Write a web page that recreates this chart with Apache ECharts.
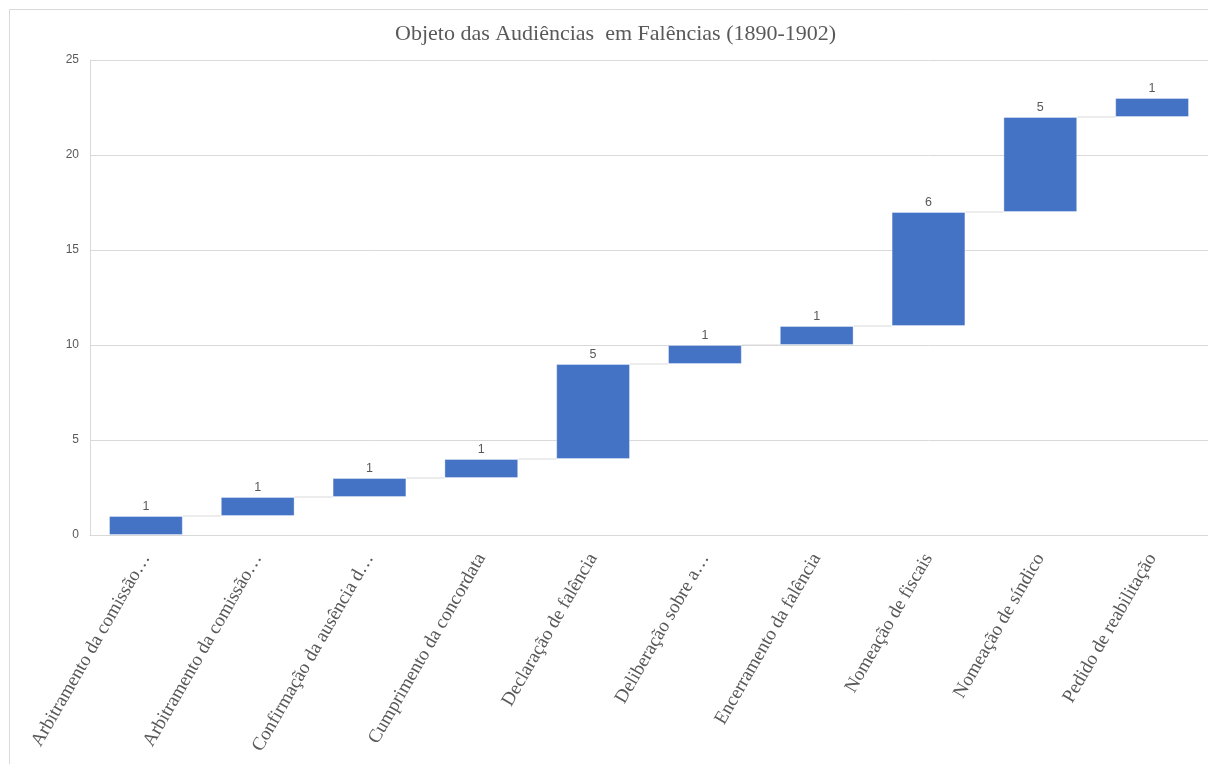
<!DOCTYPE html>
<html>
<head>
<meta charset="utf-8">
<script src="https://cdn.jsdelivr.net/npm/echarts@6/dist/echarts.min.js"></script>
<style>
  html, body { margin: 0; padding: 0; background: #fff; }
  #chart { width: 1208px; height: 764px; }
</style>
</head>
<body>
<div id="chart"></div>
<script>
// Hearing subjects in bankruptcy proceedings, 1890-1902
const titleText = 'Objeto das Audiências  em Falências (1890-1902)';
const categories = [
  'Arbitramento da comissão…',
  'Arbitramento da comissão…',
  'Confirmação da ausência d…',
  'Cumprimento da concordata',
  'Declaração de falência',
  'Deliberação sobre a…',
  'Encerramento da falência',
  'Nomeação de fiscais',
  'Nomeação de síndico',
  'Pedido de reabilitação'
];
const counts = [1, 1, 1, 1, 5, 1, 1, 6, 5, 1];
const yTicks = [0, 5, 10, 15, 20, 25];

// running totals: each bar starts where the previous one ended
const ends = [];
const bases = [];
counts.reduce((acc, v) => { bases.push(acc); ends.push(acc + v); return acc + v; }, 0);

const grey = '#595959';
const gridGrey = '#d9d9d9';
const barRatio = 0.66;

const chart = echarts.init(document.getElementById('chart'));
chart.setOption({
  animation: false,
  backgroundColor: '#fff',
  graphic: [{
    type: 'rect',
    shape: { x: 9.5, y: 9.5, width: 1300, height: 900 },
    style: { fill: 'none', stroke: gridGrey, lineWidth: 1 },
    silent: true
  }],
  title: {
    text: titleText,
    left: 390,
    top: 18,
    textStyle: { fontFamily: 'Liberation Serif', fontSize: 22, fontWeight: 'normal', color: grey }
  },
  grid: { left: 90, top: 60, width: 1120, height: 475, containLabel: false },
  xAxis: {
    type: 'category',
    data: categories,
    axisLine: { show: true, lineStyle: { color: gridGrey, width: 1 } },
    axisTick: { show: false },
    axisLabel: {
      interval: 0,
      rotate: 60,
      margin: 20,
      fontFamily: 'Liberation Serif',
      fontSize: 19,
      color: grey
    }
  },
  yAxis: {
    type: 'value',
    min: yTicks[0],
    max: yTicks[yTicks.length - 1],
    interval: 5,
    axisLine: { show: true, lineStyle: { color: gridGrey, width: 1 } },
    axisTick: { show: false },
    splitLine: { lineStyle: { color: gridGrey, width: 1 } },
    axisLabel: { fontFamily: 'Liberation Sans', fontSize: 12, color: grey, margin: 11 }
  },
  series: [
    {
      name: 'base',
      type: 'bar',
      stack: 'wf',
      barWidth: (barRatio * 100) + '%',
      itemStyle: { color: 'transparent' },
      emphasis: { disabled: true },
      data: bases
    },
    {
      name: 'Audiências',
      type: 'bar',
      stack: 'wf',
      barWidth: (barRatio * 100) + '%',
      itemStyle: { color: '#4472C4', borderColor: 'rgba(255,255,255,0.35)', borderWidth: 1 },
      label: {
        show: true,
        position: 'top',
        distance: 3,
        fontFamily: 'Liberation Sans',
        fontSize: 12.5,
        color: grey
      },
      data: counts
    },
    {
      name: 'connectors',
      type: 'custom',
      silent: true,
      z: 1,
      renderItem: function (params, api) {
        const i = api.value(0);
        if (i >= categories.length - 1) return null;
        const level = api.value(1);
        const band = api.size([1, 0])[0];
        const p1 = api.coord([i, level]);
        const p2 = api.coord([i + 1, level]);
        return {
          type: 'line',
          shape: {
            x1: p1[0] + band * barRatio / 2,
            y1: p1[1],
            x2: p2[0] - band * barRatio / 2,
            y2: p2[1]
          },
          style: { stroke: gridGrey, lineWidth: 1 }
        };
      },
      data: ends.map((v, i) => [i, v])
    }
  ]
});
</script>
</body>
</html>
